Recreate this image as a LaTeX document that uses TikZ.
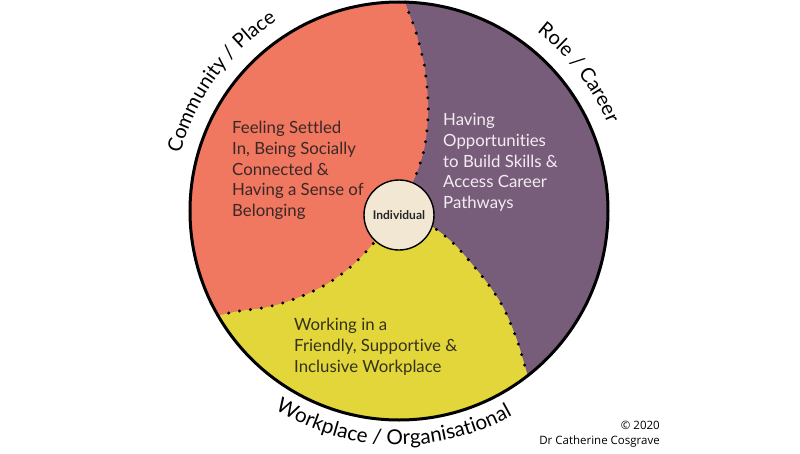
\documentclass[tikz,border=0pt]{standalone}
\usepackage{fontspec}
\setmainfont[Ligatures=NoCommon]{Lato}
\newfontfamily\copyfont{Open Sans}
\usetikzlibrary{decorations.text}
\definecolor{segred}{HTML}{F07760}
\definecolor{segpurple}{HTML}{775D7A}
\definecolor{segyellow}{HTML}{E2D63B}
\definecolor{indcream}{HTML}{F1E7D3}
\definecolor{txtdark}{HTML}{3B2826}
\definecolor{txtlight}{HTML}{F4ECF2}
\definecolor{txtolive}{HTML}{35321A}
\newcommand\arclabelfont{\fontsize{20}{24}\selectfont}
\newcommand\arclabelfontb{\fontsize{20.6}{24}\selectfont}
\tikzset{
  dotline/.style={line width=3.3pt, line cap=round, dash pattern=on 0pt off 11pt, black},
  segtext/.style={anchor=north west, align=left, inner sep=0pt, font=\fontsize{16.8}{20.8}\selectfont},
  arclabel/.style={decorate, decoration={text along path, text align=center}},
}
\begin{document}
\begin{tikzpicture}[x=1pt,y=1pt]
\useasboundingbox (-399,-242) rectangle (401,211);
\fill[white] (-399,-242) rectangle (401,211);
% base disc
\fill[segpurple] (0,0) circle[radius=209pt];
% red sector
\fill[segred] (88.3:209pt) arc[start angle=88.3, end angle=210, radius=209pt]
  -- plot[smooth] coordinates {(-181,-104.5) (-160,-100) (-137,-97) (-116,-92) (-92,-83) (-72,-73) (-52,-59) (-36,-44) (-20,-26)}
  -- (0,-4)
  -- plot[smooth] coordinates {(12,25) (17.7,38) (24.3,58) (27.7,78) (29.3,101) (28.3,121) (25.5,145) (21,164) (16,182) (11,195) (6.1,208.9)}
  -- cycle;
% yellow sector
\fill[segyellow] (210:209pt) arc[start angle=210, end angle=308, radius=209pt]
  -- plot[smooth] coordinates {(128.7,-164.7) (118,-129) (104,-96) (86,-69) (59,-37) (41,-21) (24,-10)}
  -- (0,-4)
  -- plot[smooth] coordinates {(-20,-26) (-36,-44) (-52,-59) (-72,-73) (-92,-83) (-116,-92) (-137,-97) (-160,-100) (-181,-104.5)}
  -- cycle;
% dotted boundaries
\draw[dotline] plot[smooth] coordinates {(6.1,208.9) (11,195) (16,182) (21,164) (25.5,145) (28.3,121) (29.3,101) (27.7,78) (24.3,58) (17.7,38) (12,25)};
\draw[dotline] plot[smooth] coordinates {(-181,-104.5) (-160,-100) (-137,-97) (-116,-92) (-92,-83) (-72,-73) (-52,-59) (-36,-44) (-20,-26)};
\draw[dotline] plot[smooth] coordinates {(128.7,-164.7) (118,-129) (104,-96) (86,-69) (59,-37) (41,-21) (24,-10)};
% outer ring
\draw[line width=3pt] (0,0) circle[radius=209pt];
% centre
\node[circle, fill=indcream, draw=black, line width=1.4pt, minimum size=70pt, inner sep=0pt,
      font=\fontsize{12}{14}\selectfont\bfseries, text=black!85] (ind) at (0,-4) {Individual};
% sector texts
\node[segtext, text=txtdark] (belong) at (-167,90)
  {Feeling Settled\\In, Being Socially\\Connected \&\\Having a Sense of\\Belonging};
\node[segtext, text=txtlight] (career) at (44,98)
  {Having\\Opportunities\\to Build Skills \&\\Access Career\\Pathways};
\node[segtext, text=txtolive] (work) at (-105,-107)
  {Working in a\\Friendly, Supportive \&\\Inclusive Workplace};
% curved labels
\path[arclabel, decoration={text={|\arclabelfont|Community / Place}}]
  (174:226pt) arc[start angle=174, end angle=114, radius=226pt];
\path[arclabel, decoration={text={|\arclabelfont|Role / Career}}]
  (67.5:226pt) arc[start angle=67.5, end angle=7.5, radius=226pt];
\path[arclabel, decoration={text={|\arclabelfontb|Workplace / Organisational}}]
  (230:234pt) arc[start angle=230, end angle=307, radius=234pt];
% copyright
\node[anchor=north east, align=right, inner sep=0pt, font=\copyfont\fontsize{11.5}{15}\selectfont] (copy) at (261,-210)
  {© 2020\\Dr Catherine Cosgrave};
\end{tikzpicture}
\end{document}
